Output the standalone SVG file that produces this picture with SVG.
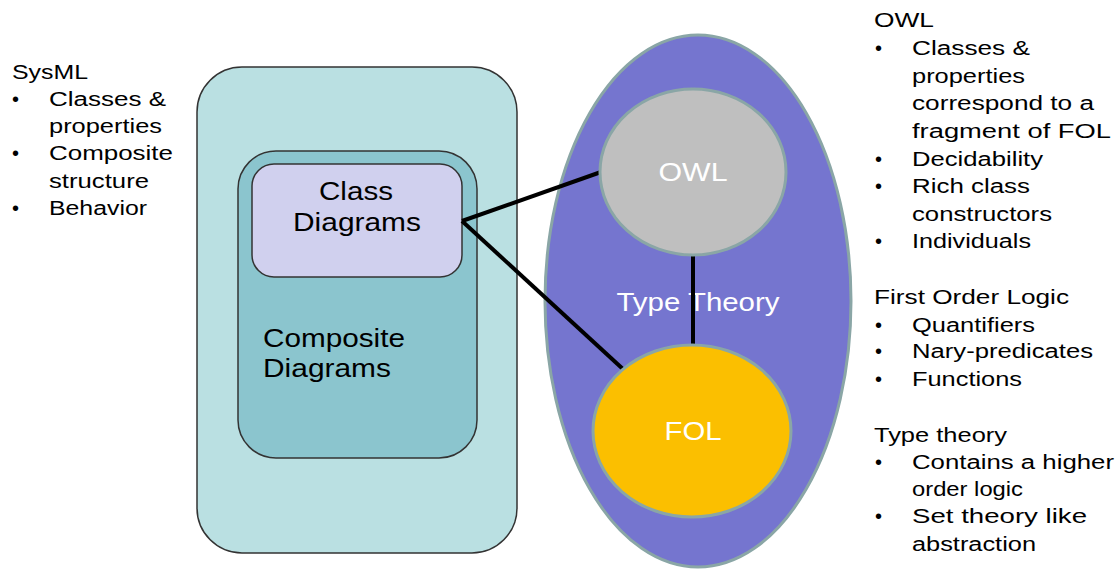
<svg xmlns="http://www.w3.org/2000/svg" width="1120" height="569" viewBox="0 0 1120 569">
<style>
.t{font-family:"Liberation Sans",Arial,sans-serif;font-size:20px;fill:#000}
.lbl{font-family:"Liberation Sans",Arial,sans-serif;font-size:25px;fill:#000}
.wl{font-family:"Liberation Sans",Arial,sans-serif;font-size:25px;fill:#fff;text-anchor:middle}
.box{stroke:#333;stroke-width:1.5}
.ell{stroke:#8aa6a6;stroke-width:3}
.conn{stroke:#000;stroke-width:4;fill:none}
</style>
<rect width="1120" height="569" fill="#fff"/>
<g id="sysml-text">
<text class="t" x="12" y="79" textLength="76" lengthAdjust="spacingAndGlyphs">SysML</text>
<text class="t" x="12" y="106">•</text><text class="t" x="49" y="106" textLength="117" lengthAdjust="spacingAndGlyphs">Classes &amp;</text>
<text class="t" x="49" y="133" textLength="113" lengthAdjust="spacingAndGlyphs">properties</text>
<text class="t" x="12" y="160">•</text><text class="t" x="49" y="160" textLength="124" lengthAdjust="spacingAndGlyphs">Composite</text>
<text class="t" x="49" y="188" textLength="100" lengthAdjust="spacingAndGlyphs">structure</text>
<text class="t" x="12" y="215">•</text><text class="t" x="49" y="215" textLength="98" lengthAdjust="spacingAndGlyphs">Behavior</text>
</g>
<g id="sysml-box"><rect class="box" x="197" y="67" width="320" height="486" rx="45" fill="#bae0e2"/></g>
<g id="composite"><rect class="box" x="238" y="151" width="239" height="307" rx="38" fill="#8bc5ce"/>
<text class="lbl" x="263" y="347" textLength="142" lengthAdjust="spacingAndGlyphs">Composite</text>
<text class="lbl" x="263" y="377" textLength="128" lengthAdjust="spacingAndGlyphs">Diagrams</text></g>
<g id="class-diagrams"><rect class="box" x="252" y="164" width="210" height="113" rx="22" fill="#d0d0ee"/>
<text class="lbl" x="319" y="200" textLength="74" lengthAdjust="spacingAndGlyphs">Class</text>
<text class="lbl" x="293" y="231" textLength="128" lengthAdjust="spacingAndGlyphs">Diagrams</text></g>
<g id="type-theory"><ellipse class="ell" cx="698" cy="301" rx="153" ry="266" fill="#7575cf"/>
<text class="wl" x="698" y="311" textLength="163" lengthAdjust="spacingAndGlyphs">Type Theory</text></g>
<g id="connectors">
<line class="conn" x1="462" y1="221" x2="601" y2="172"/>
<line class="conn" x1="462" y1="221" x2="624" y2="370"/>
<line class="conn" x1="693" y1="254" x2="693" y2="346"/>
</g>
<g id="owl"><ellipse class="ell" cx="693" cy="172" rx="93" ry="83" fill="#bfbfbf"/>
<text class="wl" x="693" y="181" textLength="69" lengthAdjust="spacingAndGlyphs">OWL</text></g>
<g id="fol"><ellipse class="ell" cx="692" cy="431" rx="99" ry="86" fill="#fbbf00"/>
<text class="wl" x="693" y="440" textLength="57" lengthAdjust="spacingAndGlyphs">FOL</text></g>
<g id="right-text">
<text class="t" x="874" y="27" textLength="60" lengthAdjust="spacingAndGlyphs">OWL</text>
<text class="t" x="875" y="55">•</text><text class="t" x="912" y="55" textLength="118" lengthAdjust="spacingAndGlyphs">Classes &amp;</text>
<text class="t" x="912" y="83" textLength="113" lengthAdjust="spacingAndGlyphs">properties</text>
<text class="t" x="912" y="110" textLength="182" lengthAdjust="spacingAndGlyphs">correspond to a</text>
<text class="t" x="912" y="138" textLength="199" lengthAdjust="spacingAndGlyphs">fragment of FOL</text>
<text class="t" x="875" y="166">•</text><text class="t" x="912" y="166" textLength="131" lengthAdjust="spacingAndGlyphs">Decidability</text>
<text class="t" x="875" y="193">•</text><text class="t" x="912" y="193" textLength="118" lengthAdjust="spacingAndGlyphs">Rich class</text>
<text class="t" x="912" y="221" textLength="140" lengthAdjust="spacingAndGlyphs">constructors</text>
<text class="t" x="875" y="248">•</text><text class="t" x="912" y="248" textLength="119" lengthAdjust="spacingAndGlyphs">Individuals</text>
<text class="t" x="874" y="304" textLength="195" lengthAdjust="spacingAndGlyphs">First Order Logic</text>
<text class="t" x="875" y="332">•</text><text class="t" x="912" y="332" textLength="123" lengthAdjust="spacingAndGlyphs">Quantifiers</text>
<text class="t" x="875" y="358">•</text><text class="t" x="912" y="358" textLength="181" lengthAdjust="spacingAndGlyphs">Nary-predicates</text>
<text class="t" x="875" y="386">•</text><text class="t" x="912" y="386" textLength="110" lengthAdjust="spacingAndGlyphs">Functions</text>
<text class="t" x="874" y="442" textLength="133" lengthAdjust="spacingAndGlyphs">Type theory</text>
<text class="t" x="875" y="469">•</text><text class="t" x="912" y="469" textLength="202" lengthAdjust="spacingAndGlyphs">Contains a higher</text>
<text class="t" x="912" y="496" textLength="111" lengthAdjust="spacingAndGlyphs">order logic</text>
<text class="t" x="875" y="523">•</text><text class="t" x="912" y="523" textLength="175" lengthAdjust="spacingAndGlyphs">Set theory like</text>
<text class="t" x="912" y="551" textLength="124" lengthAdjust="spacingAndGlyphs">abstraction</text>
</g>
</svg>
